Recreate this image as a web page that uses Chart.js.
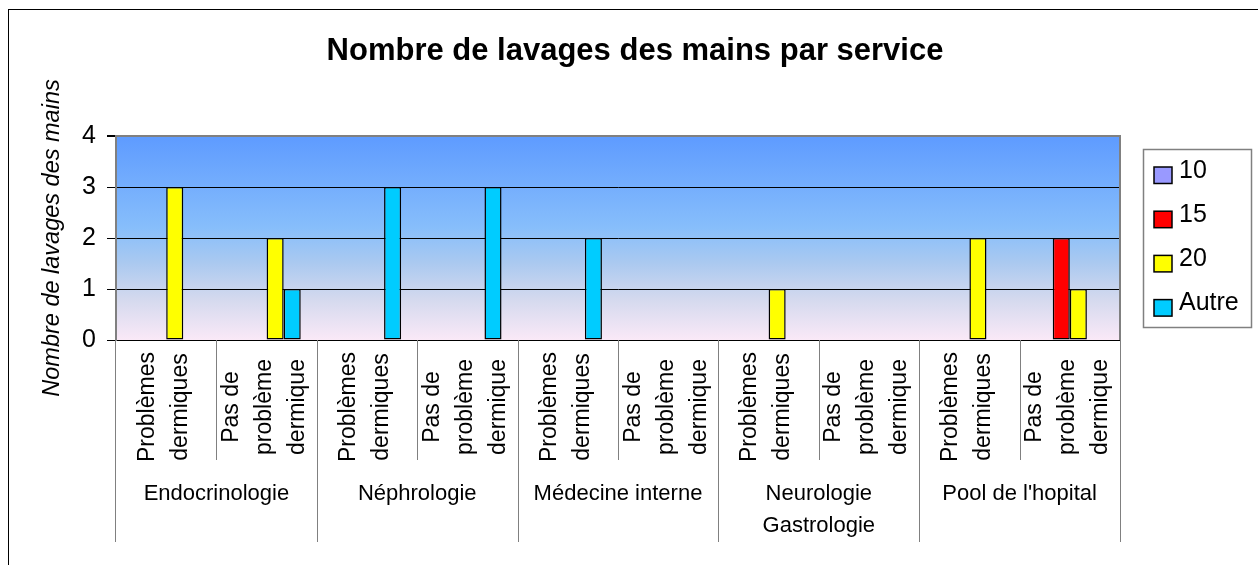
<!DOCTYPE html>
<html>
<head>
<meta charset="utf-8">
<script src="https://cdn.jsdelivr.net/npm/chart.js@4/dist/chart.umd.min.js"></script>
<style>
  html, body { margin: 0; padding: 0; background: #ffffff; }
  canvas { display: block; }
</style>
</head>
<body>
<canvas id="c" width="1258" height="565"></canvas>
<script>
// ---- data ----
const chartTitle = 'Nombre de lavages des mains par service';
const yAxisTitle = 'Nombre de lavages des mains';
const groups = ['Endocrinologie', 'Néphrologie', 'Médecine interne', ['Neurologie', 'Gastrologie'], "Pool de l'hopital"];
const categories = [
  ['Problèmes', 'dermiques'], ['Pas de', 'problème', 'dermique'],
  ['Problèmes', 'dermiques'], ['Pas de', 'problème', 'dermique'],
  ['Problèmes', 'dermiques'], ['Pas de', 'problème', 'dermique'],
  ['Problèmes', 'dermiques'], ['Pas de', 'problème', 'dermique'],
  ['Problèmes', 'dermiques'], ['Pas de', 'problème', 'dermique']
];
const seriesNames = ['10', '15', '20', 'Autre'];
const series10    = [null, null, null, null, null, null, null, null, null, null];
const series15    = [null, null, null, null, null, null, null, null, null, 2];
const series20    = [3, 2, null, null, null, null, 1, null, 2, 1];
const seriesAutre = [null, 1, 3, 3, 2, null, null, null, null, null];
const yTicks = [0, 1, 2, 3, 4];

const seriesColors = ['#9999FF', '#FF0000', '#FFFF00', '#00CCFF'];
const FONT = "'Liberation Sans', Arial, sans-serif";

const frame = {
  id: 'frame',
  beforeDraw(chart) {
    const ctx = chart.ctx;
    const a = chart.chartArea;
    ctx.save();
    // outer border
    ctx.strokeStyle = '#000000';
    ctx.lineWidth = 1;
    ctx.strokeRect(8.5, 9.5, 1400, 700);
    // plot background gradient
    const g = ctx.createLinearGradient(0, a.top, 0, a.bottom);
    g.addColorStop(0, '#5E9BFF');
    g.addColorStop(0.45, '#87BEFB');
    g.addColorStop(0.62, '#AAC9F0');
    g.addColorStop(0.8, '#D4D9EE');
    g.addColorStop(1, '#FAE9F7');
    ctx.fillStyle = g;
    ctx.fillRect(a.left, a.top, a.right - a.left, a.bottom - a.top);
    // title
    ctx.fillStyle = '#000000';
    ctx.font = 'bold 31px ' + FONT;
    ctx.textAlign = 'center';
    ctx.textBaseline = 'alphabetic';
    ctx.fillText(chartTitle, 635, 60);
    ctx.restore();
  },
  afterDraw(chart) {
    const ctx = chart.ctx;
    const a = chart.chartArea;
    const x = chart.scales.x;
    const n = chart.data.labels.length;
    const catW = (x.right - x.left) / n;
    ctx.save();
    // right border of plot
    ctx.strokeStyle = '#808080';
    ctx.lineWidth = 2;
    ctx.beginPath();
    ctx.moveTo(x.right, a.top - 1);
    ctx.lineTo(x.right, a.bottom);
    ctx.stroke();
    // separators
    ctx.lineWidth = 1;
    for (let i = 0; i <= n; i++) {
      const px = Math.round(x.left + i * catW) + (i === 0 ? -0.5 : 0.5);
      ctx.beginPath();
      ctx.moveTo(px, a.bottom);
      ctx.lineTo(px, i % 2 === 0 ? 542 : 460);
      ctx.stroke();
    }
    // subcategory labels (rotated)
    ctx.fillStyle = '#000000';
    ctx.font = '23px ' + FONT;
    ctx.textAlign = 'center';
    ctx.textBaseline = 'middle';
    const lh = 33;
    chart.data.labels.forEach((lines, i) => {
      const cx = x.getPixelForValue(i);
      ctx.save();
      ctx.translate(cx - 2, 407);
      ctx.rotate(-Math.PI / 2);
      lines.forEach((ln, j) => {
        ctx.fillText(ln, 0, (j - (lines.length - 1) / 2) * lh);
      });
      ctx.restore();
    });
    // group labels
    ctx.font = '22px ' + FONT;
    groups.forEach((gname, gi) => {
      const cx = x.left + (gi * 2 + 1) * catW;
      const lines = Array.isArray(gname) ? gname : [gname];
      lines.forEach((ln, j) => {
        ctx.fillText(ln, cx, 494 + j * 32);
      });
    });
    // legend
    ctx.strokeStyle = '#808080';
    ctx.lineWidth = 1.5;
    ctx.strokeRect(1143.5, 149.5, 108, 178);
    ctx.font = '25px ' + FONT;
    ctx.textAlign = 'left';
    chart.data.datasets.forEach((ds, i) => {
      const cy = 175 + i * 44.2;
      ctx.fillStyle = ds.backgroundColor;
      ctx.fillRect(1154, cy - 8, 18, 16.5);
      ctx.strokeStyle = '#000000';
      ctx.lineWidth = 1.5;
      ctx.strokeRect(1154, cy - 8, 18, 16.5);
      ctx.fillStyle = '#000000';
      ctx.fillText(ds.label, 1179, cy - 4);
    });
    ctx.restore();
  }
};

const seriesData = [series10, series15, series20, seriesAutre];

new Chart(document.getElementById('c'), {
  type: 'bar',
  data: {
    labels: categories,
    datasets: seriesNames.map((name, i) => ({
      label: name,
      data: seriesData[i],
      backgroundColor: seriesColors[i],
      borderColor: '#000000',
      borderWidth: 1.5,
      borderSkipped: false,
      categoryPercentage: 0.68,
      barPercentage: 1.0
    }))
  },
  options: {
    responsive: false,
    animation: false,
    devicePixelRatio: 1,
    layout: { padding: { left: 9, top: 136, right: 138, bottom: 225 } },
    plugins: {
      legend: { display: false },
      title: { display: false },
      tooltip: { enabled: false }
    },
    scales: {
      x: {
        type: 'category',
        ticks: { display: false },
        grid: { display: false },
        border: { display: true, color: '#000000', width: 1 },
        afterFit(scale) { scale.height = 0; }
      },
      y: {
        min: yTicks[0],
        max: yTicks[yTicks.length - 1],
        afterBuildTicks(scale) { scale.ticks = yTicks.map(v => ({ value: v })); },
        ticks: {
          color: '#000000',
          font: { family: FONT, size: 25 },
          padding: 11
        },
        grid: {
          color: (c) => (c.tick && c.tick.value === 4 ? '#808080' : '#000000'),
          lineWidth: (c) => (c.tick && c.tick.value === 4 ? 2 : 1),
          tickColor: '#000000',
          tickLength: 9
        },
        border: { display: true, color: '#808080', width: 2 },
        title: {
          display: true,
          text: yAxisTitle,
          color: '#000000',
          font: { family: FONT, size: 23.5, style: 'italic' },
          padding: { top: 29, bottom: 0 }
        },
        afterFit(scale) { scale.width = 107; }
      }
    }
  },
  plugins: [frame]
});
</script>
</body>
</html>
